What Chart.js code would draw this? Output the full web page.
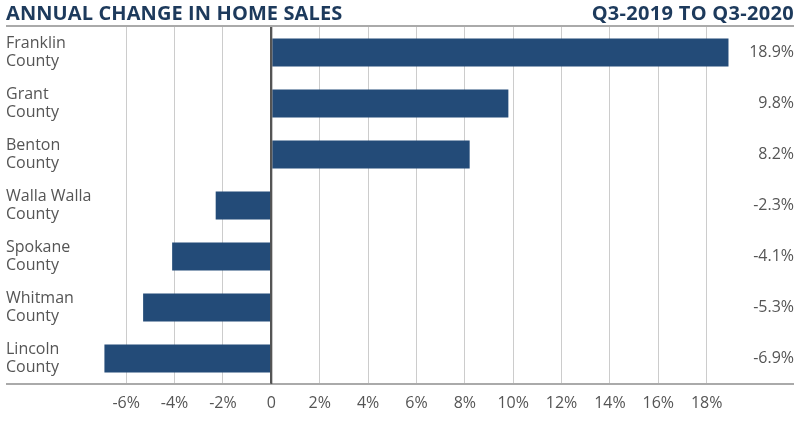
<!DOCTYPE html>
<html>
<head>
<meta charset="utf-8">
<script src="https://cdn.jsdelivr.net/npm/chart.js@4/dist/chart.umd.min.js"></script>
<style>
  body { margin: 0; background: #fff; }
  #wrap { position: relative; width: 800px; height: 424px; }
  #head {
    position: absolute; left: 6px; top: 0; width: 788px; height: 25px;
    border-bottom: 2px solid #aaaaaa;
    font-family: "Open Sans", sans-serif; font-weight: 700; color: #1d3a5c;
  }
  #head .l { position: absolute; left: 0; top: 1px; font-size: 20px; letter-spacing: 0.1px; line-height: 24px; }
  #head .r { position: absolute; right: 0; top: 1px; font-size: 20px; letter-spacing: 0.3px; line-height: 24px; }
  canvas { position: absolute; left: 0; top: 0; }
</style>
</head>
<body>
<div id="wrap">
  <canvas id="chart" width="800" height="424"></canvas>
  <div id="head"><span class="l">ANNUAL CHANGE IN HOME SALES</span><span class="r">Q3-2019 TO Q3-2020</span></div>
</div>
<script>
// chart data
const counties = [
  ['Franklin', 'County'],
  ['Grant', 'County'],
  ['Benton', 'County'],
  ['Walla Walla', 'County'],
  ['Spokane', 'County'],
  ['Whitman', 'County'],
  ['Lincoln', 'County']
];
const changes = [18.9, 9.8, 8.2, -2.3, -4.1, -5.3, -6.9];
const xTicks = [-6, -4, -2, 0, 2, 4, 6, 8, 10, 12, 14, 16, 18];

const font = { family: '"Open Sans", sans-serif', size: 16 };
const grey = '#555555';

// full-width baseline under the bars
const baseline = {
  id: 'baseline',
  afterDraw(chart) {
    const ctx = chart.ctx;
    const y = chart.chartArea.bottom;
    ctx.save();
    ctx.strokeStyle = '#aaaaaa';
    ctx.lineWidth = 2;
    ctx.beginPath();
    ctx.moveTo(chart.scales.y.left, y);
    ctx.lineTo(chart.scales.y2.right, y);
    ctx.stroke();
    // redraw zero line on top
    const x0 = chart.scales.x.getPixelForValue(0);
    ctx.strokeStyle = grey;
    ctx.beginPath();
    ctx.moveTo(x0, chart.chartArea.top);
    ctx.lineTo(x0, y);
    ctx.stroke();
    ctx.restore();
  }
};

new Chart(document.getElementById('chart').getContext('2d'), {
  type: 'bar',
  data: {
    labels: counties,
    datasets: [{
      data: changes,
      backgroundColor: '#234b78',
      barPercentage: 0.55,
      categoryPercentage: 1
    }]
  },
  options: {
    indexAxis: 'y',
    responsive: false,
    animation: false,
    layout: { padding: { top: 27, left: 6, right: 6, bottom: 0 } },
    plugins: { legend: { display: false }, tooltip: { enabled: false } },
    scales: {
      x: {
        min: -7,
        max: 19.5,
        afterBuildTicks: axis => { axis.ticks = xTicks.map(v => ({ value: v })); },
        afterFit: axis => { axis.height = 40; },
        grid: {
          color: c => c.tick && c.tick.value === 0 ? grey : '#cccccc',
          lineWidth: c => c.tick && c.tick.value === 0 ? 2 : 1,
          drawTicks: false
        },
        border: { display: false },
        ticks: {
          font: font,
          color: grey,
          padding: 10,
          autoSkip: false,
          maxRotation: 0,
          callback: v => v === 0 ? '0' : v + '%'
        }
      },
      y: {
        afterFit: axis => { axis.width = 96; },
        grid: { display: false },
        border: { display: false },
        ticks: {
          font: { family: font.family, size: 16, lineHeight: 1.08 },
          color: grey,
          crossAlign: 'far',
          padding: 0
        }
      },
      y2: {
        type: 'category',
        position: 'right',
        offset: true,
        labels: changes.map(v => v.toFixed(1) + '%'),
        afterFit: axis => { axis.width = 51; },
        grid: { display: false },
        border: { display: false },
        ticks: { font: font, color: grey, crossAlign: 'far', padding: 0 }
      }
    }
  },
  plugins: [baseline]
});
</script>
</body>
</html>
